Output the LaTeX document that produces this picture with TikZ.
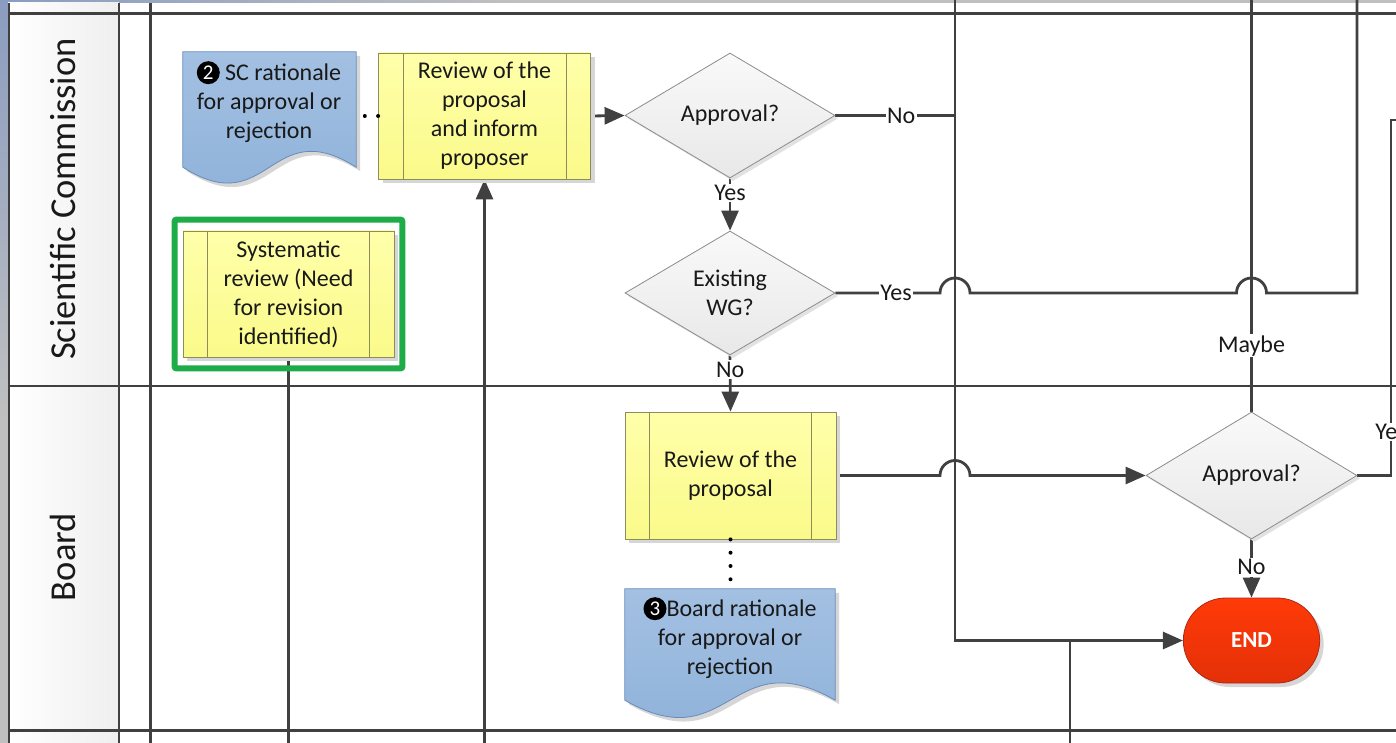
\documentclass[tikz,border=0pt]{standalone}
\usepackage{fontspec}
\setmainfont{Carlito}
\usetikzlibrary{arrows.meta,shapes.geometric,shapes.misc,shadows,calc,fit}

\definecolor{wirec}{RGB}{64,64,64}
\definecolor{procfillT}{RGB}{255,255,170}
\definecolor{procfillB}{RGB}{250,250,138}
\definecolor{procline}{RGB}{140,140,92}
\definecolor{docT}{RGB}{163,192,226}
\definecolor{docB}{RGB}{140,176,216}
\definecolor{docline}{RGB}{105,138,186}
\definecolor{decT}{RGB}{249,249,249}
\definecolor{decB}{RGB}{232,232,232}
\definecolor{decline}{RGB}{140,140,140}
\definecolor{endT}{RGB}{255,58,8}
\definecolor{endB}{RGB}{228,48,8}
\definecolor{endline}{RGB}{175,40,20}
\definecolor{hilite}{RGB}{30,172,72}
\definecolor{txt}{RGB}{25,25,25}
\definecolor{bandblue}{RGB}{138,156,192}
\definecolor{bandgray}{RGB}{192,192,192}
\definecolor{shadowc}{RGB}{214,214,214}

\pgfdeclarelayer{lanes}
\pgfdeclarelayer{wires}
\pgfsetlayers{lanes,wires,main}

% black disc with a white number, used inside the document shapes
\newcommand\blackno[2]{\tikz[baseline=-8pt]{\fill[black] (0pt,0pt) circle[radius=11.5pt];
  \node[text=white,inner sep=0pt,font=\fontsize{21}{21}\selectfont] (#2) at (0pt,0pt) {#1};}}

\tikzset{
  boxtext/.style={font=\fontsize{24}{29}\selectfont, text=txt, align=center},
  shadowed/.style={drop shadow={shadow xshift=4pt, shadow yshift=-4pt, fill=shadowc, opacity=1}},
  procbox/.style={boxtext, rectangle, draw=procline, line width=0.8pt,
    top color=procfillT, bottom color=procfillB, inner sep=0pt, shadowed,
    path picture={
      \draw[procline, line width=0.8pt]
        ([xshift=24.5pt]path picture bounding box.north west) -- ([xshift=24.5pt]path picture bounding box.south west)
        ([xshift=-24.5pt]path picture bounding box.north east) -- ([xshift=-24.5pt]path picture bounding box.south east);}},
  decision/.style={boxtext, diamond, aspect=1.68, draw=decline, line width=0.8pt,
    top color=decT, bottom color=decB, inner sep=0pt,
    drop shadow={shadow xshift=3pt, shadow yshift=-3pt, fill=shadowc!70, opacity=1}},
  docshape/.style={draw=docline, line width=0.8pt, top color=docT, bottom color=docB, shadowed},
  terminal/.style={rounded rectangle, draw=endline, line width=0.8pt, top color=endT, bottom color=endB,
    text=white, font=\bfseries\fontsize{23}{23}\selectfont, minimum width=143pt, minimum height=85pt, shadowed},
  wire/.style={draw=wirec, line width=2.8pt},
  flow/.style={wire, -{Triangle[length=20pt,width=17pt]}},
  assoc/.style={draw=black, line width=4pt, line cap=round, dash pattern=on 0pt off 13.3pt},
  lbl/.style={font=\fontsize{24}{29}\selectfont, text=txt, fill=white, inner sep=1.5pt},
  lanetitle/.style={font=\fontsize{36.5}{36.5}\selectfont, text=txt, rotate=90},
  laneline/.style={draw=wirec}
}

\begin{document}
\begin{tikzpicture}[x=1pt,y=-1pt]
\useasboundingbox (0,0) rectangle (1396,743);

% ---------- swimlane frame ----------
\begin{pgfonlayer}{lanes}
  \fill[white] (0,0) rectangle (1396,743);
  \shade[left color=bandblue, right color=bandgray] (0,0) rectangle (520,3);
  \fill[bandgray] (520,0) rectangle (1396,3);
  \shade[top color=bandblue, bottom color=bandgray] (0,0) rectangle (8,420);
  \fill[bandgray] (0,420) rectangle (8,743);
  \shade[left color=white, right color=gray!13] (8,3) rectangle (119,743);
  \draw[laneline, line width=3pt] (8,14) -- (1396,14);
  \draw[laneline, line width=2pt] (8,386) -- (1396,386);
  \draw[laneline, line width=3pt] (8,730) -- (1396,730);
  \draw[laneline, line width=2pt] (9,3) -- (9,743);
  \draw[laneline, line width=2pt] (119,3) -- (119,743);
  \draw[laneline, line width=3pt] (150,3) -- (150,743);
  \node[lanetitle] (laneSC) at (63,199) {Scientific Commission};
  \node[lanetitle] (laneBd) at (63,557) {Board};
\end{pgfonlayer}

% ---------- shapes ----------
\node[procbox, minimum width=212pt, minimum height=126pt] (rev1) at (484.5,116)
  {Review of the\\proposal\\and inform\\proposer};
\node[procbox, minimum width=211pt, minimum height=126pt] (sys) at (288.5,294)
  {Systematic\\review (Need\\for revision\\identified)};
\node[draw=hilite, line width=6pt, rounded corners=2pt, fit=(sys), inner xsep=8pt, inner ysep=11pt] (sysframe) {};
\node[procbox, minimum width=211pt, minimum height=127pt] (rev2) at (730.5,475.5)
  {Review of the\\proposal};

\node[decision, minimum width=210pt, minimum height=125pt] (ap1) at (730,115.5) {Approval?};
\node[decision, minimum width=210pt, minimum height=124pt] (wg) at (730,293) {Existing\\WG?};
\node[decision, minimum width=211pt, minimum height=127pt] (ap2) at (1251.5,475.5) {Approval?};

\node[terminal] (endn) at (1251.5,640.5) {END};

% documents: frame node, wavy outline, text
\node[minimum width=173pt, minimum height=115pt, inner sep=0pt] (scdoc) at (269.5,109.5) {};
\path[docshape] (scdoc.north west) -- (scdoc.north east) -- (scdoc.south east)
  .. controls ($(scdoc.south)+(0,-55)$) and ($(scdoc.south)+(0,55)$) .. (scdoc.south west) -- cycle;
\node[boxtext] (sctext) at (269,102) {\blackno{2}{numtwo} SC rationale\\for approval or\\rejection};

\node[minimum width=210pt, minimum height=111pt, inner sep=0pt] (bdoc) at (730,644.5) {};
\path[docshape] (bdoc.north west) -- (bdoc.north east) -- (bdoc.south east)
  .. controls ($(bdoc.south)+(0,-60)$) and ($(bdoc.south)+(0,60)$) .. (bdoc.south west) -- cycle;
\node[boxtext] (btext) at (730,638) {\blackno{3}{numthree}Board rationale\\for approval or\\rejection};

% dotted associations
\draw[assoc] (rev1.west) -- (rev1.west -| scdoc.east);
\draw[assoc] (rev2.south) -- (rev2.south |- bdoc.north);

% ---------- connectors ----------
\coordinate (noTop) at (955,-6);
\coordinate (wgTop) at (1357,-6);
\coordinate (mbTop) at (ap2.north |- noTop);
\coordinate (yesCol) at (1391,120);
\coordinate (yesOut) at (1412,120);
\coordinate (bottomEdge) at (0,752);
\coordinate (joinB) at (1070,752);

\begin{pgfonlayer}{wires}
  \draw[flow] (rev1.east) -- (ap1.west);
  \draw[wire] (ap1.east) -- node[lbl, pos=0.55] {No} (ap1.east -| noTop);
  \draw[flow] (noTop) |- (endn.west);
  \draw[wire] (joinB) -- (joinB |- endn.west);
  \draw[flow] (ap1.south) -- node[lbl, pos=0.28] {Yes} (wg.north);
  \draw[wire] (wg.east) -- node[lbl, pos=0.58] {Yes} ($(wg.east -| noTop)+(-15,0)$)
    arc[start angle=180, end angle=360, radius=15]
    -- ($(wg.east -| mbTop)+(-15,0)$)
    arc[start angle=180, end angle=360, radius=15]
    -- (wg.east -| wgTop) -- (wgTop);
  \draw[flow] (wg.south) -- node[lbl, pos=0.25] {No} (rev2.north);
  \draw[flow] (rev2.east) -- ($(rev2.east -| noTop)+(-15,0)$)
    arc[start angle=180, end angle=360, radius=15] -- (ap2.west);
  \draw[wire] (ap2.north) -- node[lbl, pos=0.158] {Maybe} (mbTop);
  \draw[flow] (ap2.south) -- node[lbl, pos=0.48] {No} (endn.north);
  \draw[wire] (ap2.east) -| node[lbl, pos=0.561] {Yes} (yesCol) -- (yesOut);
  \draw[wire] (sys.south) -- (sys.south |- bottomEdge);
  \draw[flow] (rev1.south |- bottomEdge) -- (rev1.south);
\end{pgfonlayer}
\end{tikzpicture}
\end{document}
